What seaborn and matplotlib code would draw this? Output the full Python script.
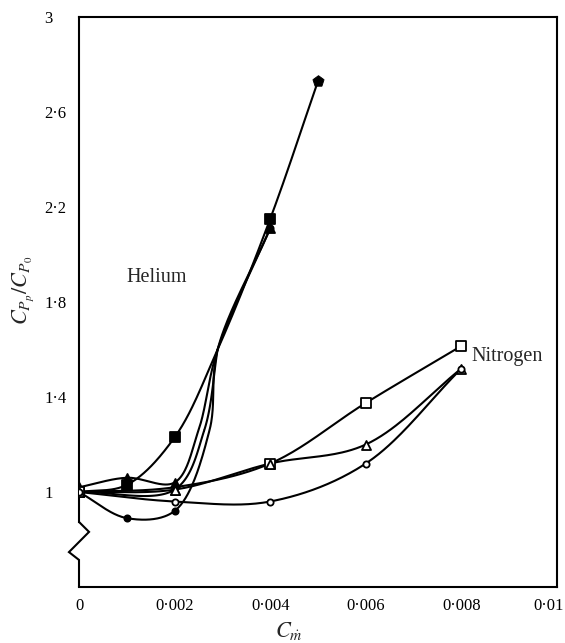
import numpy as np
import pandas as pd
import matplotlib
matplotlib.use("Agg")
import matplotlib.pyplot as plt
import matplotlib.transforms as mtransforms
import seaborn as sns

# --- data ---
# helium runs (filled symbols): measured points
he_sq_x = [0, 0.001, 0.002, 0.004]
he_sq_y = [1.00, 1.03, 1.23, 2.15]
he_top_x = [0.005]
he_top_y = [2.73]
he_tri_x = [0, 0.001, 0.002, 0.004]
he_tri_y = [1.02, 1.06, 1.04, 2.11]
he_opn_x = [0, 0.002]
he_opn_y = [1.00, 1.01]
he_dot_x = [0, 0.001, 0.002, 0.004]
he_dot_y = [1.00, 0.89, 0.92, 2.11]
# extra points (no symbol there)
he_sq_gx, he_sq_gy = [0.0029, 0.005], [1.60, 2.73]
he_tri_gx, he_tri_gy = [0.0025, 0.0029], [1.26, 1.60]
he_opn_gx, he_opn_gy = [0.00262, 0.0029], [1.26, 1.60]
he_dot_gx, he_dot_gy = [0.00273, 0.0029], [1.26, 1.60]

# nitrogen runs (open symbols)
n_sq_x = [0, 0.004, 0.006, 0.008]
n_sq_y = [1.00, 1.12, 1.375, 1.615]
n_sq_gx, n_sq_gy = [0.002], [1.02]
n_tri_x = [0, 0.002, 0.004, 0.006, 0.008]
n_tri_y = [1.00, 1.01, 1.12, 1.20, 1.52]
n_circ_x = [0, 0.002, 0.004, 0.006, 0.008]
n_circ_y = [1.00, 0.96, 0.96, 1.12, 1.52]

x_ticks = [0, 0.002, 0.004, 0.006, 0.008, 0.01]
x_tick_labels = ['0', '0·002', '0·004', '0·006', '0·008', '0·01']
y_ticks = [1, 1.4, 1.8, 2.2, 2.6, 3]
y_tick_labels = ['1', '1·4', '1·8', '2·2', '2·6', '3']

X_LIM = (0, 0.01)
Y_LIM = (0.6, 3)
SX, SY = 478, 570  # axes size in pixels, used to keep the smoothing isotropic


def catmull(xs, ys, n=40):
    # centripetal Catmull-Rom through the points, worked out in screen-like units
    p = np.column_stack([(np.asarray(xs) - X_LIM[0]) / (X_LIM[1] - X_LIM[0]) * SX,
                         (np.asarray(ys) - Y_LIM[0]) / (Y_LIM[1] - Y_LIM[0]) * SY])
    p = np.vstack([2 * p[0] - p[1], p, 2 * p[-1] - p[-2]])
    out = []
    for i in range(1, len(p) - 2):
        p0, p1, p2, p3 = p[i - 1], p[i], p[i + 1], p[i + 2]
        t0 = 0.0
        t1 = t0 + np.linalg.norm(p1 - p0) ** 0.5
        t2 = t1 + np.linalg.norm(p2 - p1) ** 0.5
        t3 = t2 + np.linalg.norm(p3 - p2) ** 0.5
        t = np.linspace(t1, t2, n)[:, None]
        a1 = (t1 - t) / (t1 - t0) * p0 + (t - t0) / (t1 - t0) * p1
        a2 = (t2 - t) / (t2 - t1) * p1 + (t - t1) / (t2 - t1) * p2
        a3 = (t3 - t) / (t3 - t2) * p2 + (t - t2) / (t3 - t2) * p3
        b1 = (t2 - t) / (t2 - t0) * a1 + (t - t0) / (t2 - t0) * a2
        b2 = (t3 - t) / (t3 - t1) * a2 + (t - t1) / (t3 - t1) * a3
        out.append((t2 - t) / (t2 - t1) * b1 + (t - t1) / (t2 - t1) * b2)
    c = np.vstack(out)
    return pd.DataFrame({'x': c[:, 0] / SX * (X_LIM[1] - X_LIM[0]) + X_LIM[0],
                         'y': c[:, 1] / SY * (Y_LIM[1] - Y_LIM[0]) + Y_LIM[0]})


def merged(xs, ys, gx, gy):
    pts = sorted(zip(list(xs) + list(gx), list(ys) + list(gy)))
    return [a for a, _ in pts], [b for _, b in pts]


sns.set_theme(style='white')
plt.rcParams['font.family'] = ['Liberation Serif', 'DejaVu Serif']
plt.rcParams['mathtext.fontset'] = 'stix'

fig = plt.figure(figsize=(5.65, 6.43), dpi=100)
ax = fig.add_axes([79 / 565, 1 - 587 / 643, 478 / 565, 570 / 643])

series = [
    (he_sq_x, he_sq_y, he_sq_gx, he_sq_gy, 's', 'black', 6.5),
    (he_tri_x, he_tri_y, he_tri_gx, he_tri_gy, '^', 'black', 6.5),
    (he_opn_x, he_opn_y, he_opn_gx, he_opn_gy, '^', 'white', 6.5),
    (he_dot_x, he_dot_y, he_dot_gx, he_dot_gy, 'o', 'black', 4.5),
    (n_sq_x, n_sq_y, n_sq_gx, n_sq_gy, 's', 'white', 6.5),
    (n_tri_x, n_tri_y, [], [], '^', 'white', 6.5),
    (n_circ_x, n_circ_y, [], [], 'o', 'white', 4.5),
]

for xs, ys, gx, gy, mk, fc, ms in series:
    cx, cy = merged(xs, ys, gx, gy)
    curve = catmull(cx, cy)
    sns.lineplot(data=curve, x='x', y='y', sort=False, estimator=None,
                 color='black', lw=1.5, ax=ax)
    sns.scatterplot(x=xs, y=ys, marker=mk, s=ms ** 2, color=fc,
                    edgecolor='black', linewidth=1.3, zorder=3, ax=ax)

# top point of the steepest helium run
sns.scatterplot(x=he_top_x, y=he_top_y, marker='p', s=70, color='black',
                edgecolor='black', zorder=4, ax=ax)

ax.set_xlim(*X_LIM)
ax.set_ylim(*Y_LIM)
ax.set_xticks(x_ticks)
ax.set_xticklabels(x_tick_labels)
ax.set_yticks(y_ticks)
ax.set_yticklabels(y_tick_labels)
ax.tick_params(axis='both', direction='in', width=1.3, color='black',
               labelsize=12, labelcolor='black')
ax.tick_params(axis='x', pad=8, length=9)
ax.tick_params(axis='y', pad=25, length=11)
for lbl in ax.get_yticklabels():
    lbl.set_horizontalalignment('left')
# the last x label sits a little left of its tick so it stays on the page
last = ax.get_xticklabels()[-1]
last.set_horizontalalignment('right')
last.set_transform(last.get_transform()
                   + mtransforms.ScaledTranslation(0.07, 0, fig.dpi_scale_trans))

for s in ax.spines.values():
    s.set_color('black')
    s.set_linewidth(1.5)
ax.spines['left'].set_bounds(0.874, 3)
# broken-axis zigzag on the left spine
ax.plot([0, 0.00021, -0.00021, 0, 0], [0.874, 0.832, 0.747, 0.714, 0.6],
        color='black', lw=1.5, clip_on=False, solid_joinstyle='miter')

ax.text(0.00099, 1.905, 'Helium', fontsize=14.5, va='center', ha='left')
ax.text(0.00821, 1.57, 'Nitrogen', fontsize=14.5, va='center', ha='left')

ax.set_xlabel(r'$C_{\dot{m}}$', fontsize=16)
ax.xaxis.set_label_coords(0.44, -0.058)
ax.set_ylabel(r'$C_{P_p}/C_{P_0}$', fontsize=16)
ax.yaxis.set_label_coords(-0.089, 0.52)

fig.savefig('out.png', dpi=100)
